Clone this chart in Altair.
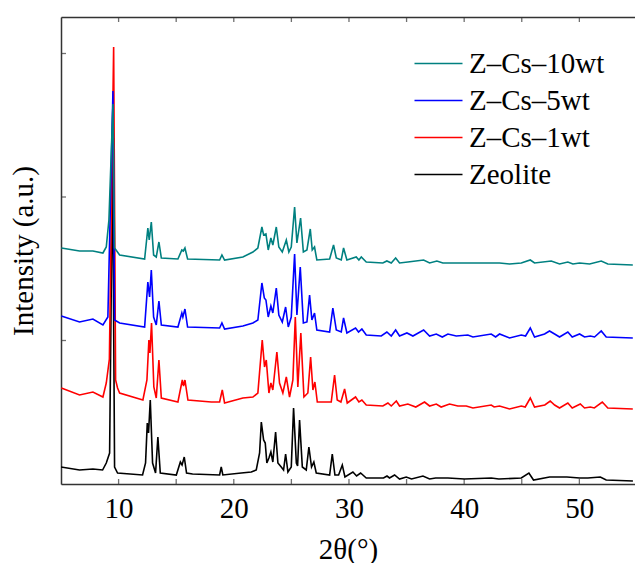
import altair as alt
import pandas as pd

# ---- data (2theta in degrees, intensity in arbitrary units) ----
ZEO_X = [5.0, 6.61, 7.77, 8.61, 8.93, 9.22, 9.48, 9.65, 9.91, 12.08, 12.34, 12.49, 12.6, 12.75, 12.95,
         13.21, 13.41, 13.62, 15.01, 15.36, 15.51, 15.7, 15.9, 16.42, 18.77, 18.91, 19.05, 20.65, 21.52,
         21.95, 22.24, 22.39, 22.59, 22.73, 22.87, 23.05, 23.22, 23.39, 23.63, 23.83, 24.12, 24.32, 24.5,
         24.7, 24.99, 25.19, 25.43, 25.54, 25.71, 25.95, 26.29, 26.52, 26.75, 26.95, 27.16, 28.32, 28.55,
         28.78, 29.1, 29.42, 29.65, 30.34, 30.66, 31.01, 31.5, 33.0, 33.3, 33.52, 33.96, 34.39, 34.97,
         35.43, 36.42, 37.0, 37.52, 38.59, 40.03, 42.35, 43.01, 44.96, 45.62, 46.02, 47.41, 48.92, 50.02,
         50.74, 51.82, 52.33, 54.65]
ZEO_Y = [17, 14, 15, 14, 21, 31, 330, 17, 11, 9, 21, 61, 51, 84, 21,
         11, 47, 11, 9, 22, 19, 27, 11, 10, 9, 17, 9, 11, 12,
         14, 31, 62, 44, 41, 21, 26, 32, 22, 52, 21, 17, 14, 30,
         12, 17, 76, 21, 18, 64, 17, 14, 37, 17, 22, 11, 9, 30,
         9, 9, 19, 7, 12, 8, 11, 6, 6, 8, 6, 9, 5, 7,
         5, 8, 5, 6, 6, 5, 6, 5, 6, 11, 4, 7, 7, 6,
         6, 7, 4, 3]

CS1_X = [5.03, 6.61, 7.77, 8.64, 8.93, 9.2, 9.57, 9.74, 9.91, 10.09, 12.11, 12.46, 12.63, 12.72, 12.86,
         13.06, 13.27, 13.5, 13.71, 15.15, 15.53, 15.64, 15.76, 16.02, 18.05, 18.77, 19.0, 19.2, 20.79,
         21.66, 22.09, 22.47, 22.67, 22.82, 23.05, 23.22, 23.39, 23.74, 23.97, 24.26, 24.56, 24.84, 25.13,
         25.34, 25.56, 25.82, 26.09, 26.43, 26.67, 26.87, 27.04, 27.25, 28.46, 28.75, 28.98, 29.3, 29.62,
         29.85, 30.57, 30.86, 31.12, 31.5, 32.94, 33.38, 33.67, 34.11, 34.39, 35.11, 35.8, 36.56, 37.0,
         37.58, 38.0, 38.73, 39.45, 40.18, 40.76, 42.35, 42.6, 43.07, 43.94, 44.96, 45.3, 45.74, 46.11,
         47.0, 47.47, 47.85, 48.28, 49.0, 49.38, 50.08, 50.45, 50.95, 51.3, 51.99, 52.47, 54.64]
CS1_Y = [96, 89, 92, 87, 101, 125, 437, 104, 96, 91, 84, 104, 144, 131, 161,
         97, 86, 124, 86, 82, 104, 98, 104, 84, 82, 82, 94, 81, 86,
         87, 91, 144, 117, 124, 91, 101, 94, 132, 101, 91, 107, 87, 104,
         167, 97, 151, 87, 91, 127, 94, 102, 82, 82, 109, 84, 82, 95,
         81, 87, 82, 84, 79, 78, 81, 78, 83, 78, 80, 77, 82, 78,
         80, 77, 80, 78, 78, 76, 79, 77, 78, 75, 78, 77, 86, 77,
         79, 83, 79, 76, 81, 76, 80, 76, 77, 76, 82, 76, 75]

CS5_X = [5.03, 6.61, 7.77, 8.64, 9.07, 9.51, 9.65, 10.09, 12.26, 12.54, 12.69, 12.84, 13.04, 13.27, 13.5,
         13.71, 15.15, 15.49, 15.58, 15.76, 15.99, 18.77, 18.97, 19.2, 20.79, 21.66, 22.09, 22.44, 22.65,
         22.79, 22.99, 23.22, 23.39, 23.69, 23.91, 24.21, 24.5, 24.73, 24.99, 25.28, 25.48, 25.77, 26.04,
         26.35, 26.58, 26.78, 27.01, 27.21, 28.32, 28.6, 28.9, 29.33, 29.53, 29.82, 30.57, 30.83, 31.12,
         31.5, 32.8, 33.29, 33.67, 34.05, 34.39, 35.03, 35.55, 36.48, 37.0, 37.58, 38.1, 38.59, 39.31,
         40.32, 40.76, 42.35, 42.73, 43.07, 43.94, 44.96, 45.33, 45.74, 46.11, 46.98, 47.41, 47.85, 48.28,
         49.0, 49.38, 50.02, 50.45, 50.95, 51.32, 51.9, 52.33, 54.64]
CS5_Y = [168, 162, 165, 159, 167, 393, 164, 161, 157, 202, 187, 214, 167, 159, 183,
         159, 157, 171, 167, 175, 157, 156, 161, 155, 158, 161, 164, 201, 186,
         184, 167, 178, 171, 196, 169, 162, 177, 157, 167, 230, 169, 217, 161,
         162, 189, 164, 171, 154, 152, 176, 154, 152, 166, 151, 156, 152, 155,
         149, 148, 152, 148, 154, 148, 151, 148, 154, 148, 150, 147, 150, 148,
         149, 147, 150, 147, 150, 146, 149, 148, 156, 147, 150, 153, 150, 147,
         152, 147, 150, 147, 148, 147, 153, 147, 146]

CS10_X = [5.03, 6.61, 7.77, 8.64, 8.93, 9.16, 9.51, 9.65, 10.09, 12.26, 12.54, 12.66, 12.84, 13.04, 13.27,
          13.5, 13.71, 15.15, 15.49, 15.62, 15.76, 15.99, 18.77, 18.97, 19.2, 20.79, 21.66, 22.09, 22.44,
          22.59, 22.79, 22.99, 23.22, 23.39, 23.69, 23.91, 24.21, 24.56, 24.78, 24.99, 25.28, 25.48, 25.8,
          26.04, 26.35, 26.64, 26.81, 27.01, 27.21, 28.32, 28.66, 28.9, 29.33, 29.53, 29.82, 30.63, 30.86,
          31.07, 31.5, 32.94, 33.29, 33.67, 34.05, 34.39, 35.11, 36.48, 37.0, 37.63, 38.15, 40.18, 41.05,
          42.35, 43.07, 43.94, 44.96, 45.74, 46.11, 47.56, 48.28, 49.0, 49.44, 50.02, 50.89, 51.9, 52.47,
          54.64]
CS10_Y = [236, 233, 233, 231, 237, 264, 380, 236, 229, 225, 256, 244, 262, 229, 227,
          242, 226, 225, 234, 233, 236, 225, 224, 229, 224, 227, 232, 236, 257,
          249, 250, 234, 246, 239, 257, 237, 232, 244, 232, 237, 277, 241, 266,
          232, 234, 255, 234, 237, 224, 225, 239, 226, 224, 236, 224, 227, 224,
          227, 222, 221, 223, 221, 226, 221, 222, 224, 221, 223, 221, 221, 221,
          221, 221, 220, 221, 224, 221, 223, 220, 222, 220, 221, 220, 223, 220,
          219]

SERIES = ["Z–Cs–10wt", "Z–Cs–5wt", "Z–Cs–1wt", "Zeolite"]
COLORS = ["#008080", "#0000ff", "#ff0000", "#000000"]
X_TICKS = [10, 15, 20, 25, 30, 35, 40, 45, 50]
X_LABELS = [10, 20, 30, 40, 50]
Y_TICKS = [143.5, 287, 430.5]

W, H = 574, 467
FONT = "Times New Roman"
FS = 29
AXC = "#333333"
LW = 1.6

xscale = alt.Scale(domain=[5, 54.83], nice=False, zero=False)
yscale = alt.Scale(domain=[0, 467], nice=False, zero=False)
cscale = alt.Scale(domain=SERIES, range=COLORS)

legend = alt.Legend(
    orient="none", legendX=363, legendY=32, title=None,
    symbolType="M-2,0H2", symbolSize=576, symbolStrokeWidth=1.5,
    labelFont=FONT, labelFontSize=FS, labelColor="black", labelOffset=16,
    rowPadding=7, padding=0,
)


def series_layer(name, xs, ys, first=False):
    df = pd.DataFrame({"theta": xs, "intensity": ys, "series": name})
    if first:
        xaxis = alt.Axis(values=X_LABELS, format="d", ticks=False, domain=True, grid=False,
                         domainColor=AXC, domainWidth=1.5, labelFont=FONT, labelFontSize=FS,
                         labelColor="black", labelPadding=10, title="2θ(°)", titleFont=FONT,
                         titleFontSize=FS, titleFontWeight="normal", titleColor="black",
                         titlePadding=12)
        yaxis = alt.Axis(labels=False, ticks=False, domain=True, grid=False, domainColor=AXC,
                         domainWidth=1.5, title="Intensity (a.u.)", titleFont=FONT,
                         titleFontSize=FS, titleFontWeight="normal", titleColor="black",
                         titlePadding=23)
    else:
        xaxis = None
        yaxis = None
    return alt.Chart(df).mark_line(strokeWidth=LW, clip=True).encode(
        x=alt.X("theta:Q", scale=xscale, axis=xaxis),
        y=alt.Y("intensity:Q", scale=yscale, axis=yaxis),
        color=alt.Color("series:N", scale=cscale, legend=legend, sort=SERIES),
    )


lines = [
    series_layer("Zeolite", ZEO_X, ZEO_Y, first=True),
    series_layer("Z–Cs–1wt", CS1_X, CS1_Y),
    series_layer("Z–Cs–5wt", CS5_X, CS5_Y),
    series_layer("Z–Cs–10wt", CS10_X, CS10_Y),
]

xt = pd.DataFrame({"t": X_TICKS})
yt = pd.DataFrame({"v": Y_TICKS})

bottom_ticks = alt.Chart(xt).mark_tick(orient="vertical", size=5, thickness=1.3, color=AXC).encode(
    x=alt.X("t:Q", scale=xscale, axis=None), y=alt.value(H - 2.5))
top_ticks = alt.Chart(xt).mark_tick(orient="vertical", size=5, thickness=1.3, color=AXC).encode(
    x=alt.X("t:Q", scale=xscale,
            axis=alt.Axis(orient="top", labels=False, ticks=False, domain=True, grid=False,
                          domainColor=AXC, domainWidth=1.5, title=None)),
    y=alt.value(2.5))
left_ticks = alt.Chart(yt).mark_tick(orient="horizontal", size=5, thickness=1.3, color=AXC).encode(
    y=alt.Y("v:Q", scale=yscale, axis=None), x=alt.value(2.5))

chart = alt.layer(bottom_ticks, top_ticks, left_ticks, *lines).resolve_axis(
    x="independent", y="independent"
).properties(
    width=W, height=H,
    padding={"left": 61, "top": 17, "right": 0, "bottom": 79},
    autosize=alt.AutoSizeParams(type="none"),
).configure_view(stroke=None).configure(font=FONT)

chart.save("out.html", embed_options={"renderer": "svg", "actions": False})
